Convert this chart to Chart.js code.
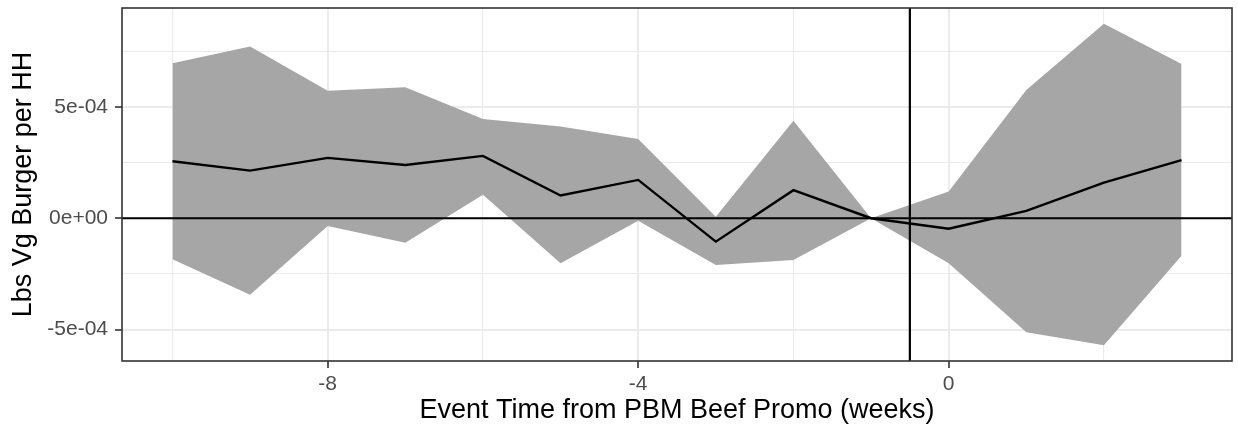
<!DOCTYPE html>
<html>
<head>
<meta charset="utf-8">
<script src="https://cdn.jsdelivr.net/npm/chart.js@4/dist/chart.umd.min.js"></script>
<style>
  html, body { margin: 0; padding: 0; background: #fff; }
  #wrap { width: 1238px; height: 432px; position: relative; }
</style>
</head>
<body>
<div id="wrap"><canvas id="chart"></canvas></div>
<script>
// event-study estimates
var weeks = [-10, -9, -8, -7, -6, -5, -4, -3, -2, -1, 0, 1, 2, 3];
var estimate = [2.56e-4, 2.14e-4, 2.71e-4, 2.39e-4, 2.80e-4, 1.02e-4, 1.72e-4, -1.05e-4, 1.26e-4, 0, -0.47e-4, 0.33e-4, 1.60e-4, 2.61e-4];
var upper = [6.96e-4, 7.71e-4, 5.73e-4, 5.88e-4, 4.46e-4, 4.12e-4, 3.56e-4, 0.07e-4, 4.38e-4, 0, 1.20e-4, 5.76e-4, 8.73e-4, 6.92e-4];
var lower = [-1.84e-4, -3.43e-4, -0.35e-4, -1.10e-4, 1.05e-4, -2.02e-4, -0.11e-4, -2.10e-4, -1.87e-4, 0, -2.02e-4, -5.12e-4, -5.70e-4, -1.68e-4];

// axes
var xMajor = [-8, -4, 0];
var xMinor = [-10, -6, -2, 2];
var xTickLabels = ["-8", "-4", "0"];
var yMajor = [-5e-4, 0, 5e-4];
var yMinor = [-2.5e-4, 2.5e-4, 7.5e-4];
var yTickLabels = ["-5e-04", "0e+00", "5e-04"];
var xRange = [-10.65, 3.65];
var yRange = [-6.41e-4, 9.44e-4];

// reference lines
var eventLineX = -0.5;
var zeroLineY = 0;

var FONT = "'Liberation Sans', Arial, Helvetica, sans-serif";

function pts(ys) {
    return weeks.map(function (w, i) { return { x: w, y: ys[i] }; });
}

function isMajor(list, v) {
    return list.some(function (m) { return Math.abs(m - v) < 1e-9; });
}

function labelFor(majors, labels, v) {
    for (var i = 0; i < majors.length; i++) {
        if (Math.abs(majors[i] - v) < 1e-9) return labels[i];
    }
    return "";
}

var refLines = {
    id: "refLines",
    afterDatasetsDraw: function (chart) {
        var c = chart.ctx, a = chart.chartArea;
        var xs = chart.scales.x, ys = chart.scales.y;
        c.save();
        c.strokeStyle = "#000";
        c.lineWidth = 2.2;
        var y0 = ys.getPixelForValue(zeroLineY);
        c.beginPath();
        c.moveTo(a.left, y0);
        c.lineTo(a.right, y0);
        c.stroke();
        var xv = xs.getPixelForValue(eventLineX);
        c.beginPath();
        c.moveTo(xv, a.top);
        c.lineTo(xv, a.bottom);
        c.stroke();
        // panel border
        c.strokeStyle = "#333333";
        c.lineWidth = 1.6;
        c.strokeRect(a.left, a.top, a.right - a.left, a.bottom - a.top);
        c.restore();
    }
};

new Chart(document.getElementById("chart").getContext("2d"), {
    type: "line",
    data: {
        datasets: [{
            label: "upper",
            data: pts(upper),
            borderWidth: 0,
            pointRadius: 0,
            backgroundColor: "#A6A6A6",
            fill: "+1",
            order: 2
        }, {
            label: "lower",
            data: pts(lower),
            borderWidth: 0,
            pointRadius: 0,
            fill: false,
            order: 2
        }, {
            label: "estimate",
            data: pts(estimate),
            borderColor: "#000",
            borderWidth: 2.4,
            pointRadius: 0,
            fill: false,
            order: 1
        }]
    },
    options: {
        responsive: true,
        maintainAspectRatio: false,
        animation: false,
        layout: { padding: { left: 0, top: 8, right: 6, bottom: 0 } },
        plugins: {
            legend: { display: false },
            tooltip: { enabled: false }
        },
        scales: {
            x: {
                type: "linear",
                min: xRange[0],
                max: xRange[1],
                afterBuildTicks: function (axis) {
                    axis.ticks = xMinor.concat(xMajor).sort(function (a, b) { return a - b; })
                        .map(function (v) { return { value: v }; });
                },
                afterFit: function (axis) {
                    axis.height = 71;
                    axis.paddingLeft = 0;
                    axis.paddingRight = 0;
                },
                border: { display: false },
                grid: {
                    color: "#EBEBEB",
                    lineWidth: function (ctx) { return isMajor(xMajor, ctx.tick.value) ? 2 : 1.1; },
                    tickColor: function (ctx) { return isMajor(xMajor, ctx.tick.value) ? "#333333" : "rgba(0,0,0,0)"; },
                    tickWidth: 1.6,
                    tickLength: 7
                },
                ticks: {
                    autoSkip: false,
                    maxRotation: 0,
                    padding: 4,
                    color: "#4D4D4D",
                    font: { family: FONT, size: 21 },
                    callback: function (v) { return labelFor(xMajor, xTickLabels, v); }
                },
                title: {
                    display: true,
                    text: "Event Time from PBM Beef Promo (weeks)",
                    color: "#000",
                    font: { family: FONT, size: 27 },
                    padding: { top: 0, bottom: 5 }
                }
            },
            y: {
                type: "linear",
                min: yRange[0],
                max: yRange[1],
                afterBuildTicks: function (axis) {
                    axis.ticks = yMinor.concat(yMajor).sort(function (a, b) { return a - b; })
                        .map(function (v) { return { value: v }; });
                },
                afterFit: function (axis) {
                    axis.width = 122;
                    axis.paddingTop = 0;
                    axis.paddingBottom = 0;
                },
                border: { display: false },
                grid: {
                    color: "#EBEBEB",
                    lineWidth: function (ctx) { return isMajor(yMajor, ctx.tick.value) ? 2 : 1.1; },
                    tickColor: function (ctx) { return isMajor(yMajor, ctx.tick.value) ? "#333333" : "rgba(0,0,0,0)"; },
                    tickWidth: 1.6,
                    tickLength: 7
                },
                ticks: {
                    autoSkip: false,
                    padding: 7,
                    color: "#4D4D4D",
                    font: { family: FONT, size: 21 },
                    callback: function (v) { return labelFor(yMajor, yTickLabels, v); }
                },
                title: {
                    display: true,
                    text: "Lbs Vg Burger per HH",
                    color: "#000",
                    font: { family: FONT, size: 27 },
                    padding: { top: 7, bottom: 0 }
                }
            }
        }
    },
    plugins: [refLines]
});
</script>
</body>
</html>
